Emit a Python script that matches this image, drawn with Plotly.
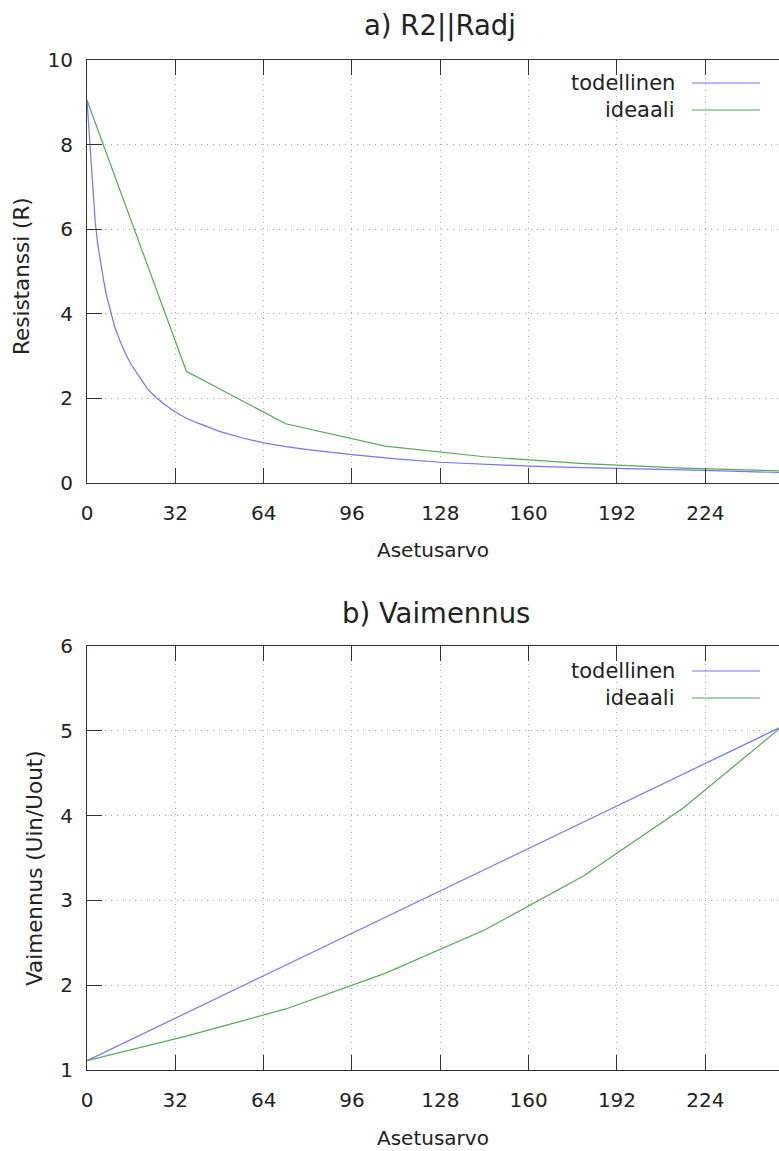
import plotly.graph_objects as go

# ---- data ----
asetus_real_r = [0, 1, 2, 3, 4, 5, 6, 7, 8, 10, 12, 14, 16, 18, 20, 22, 24, 28, 32,
                 36, 40, 48, 56, 64, 72, 80, 96, 112, 128, 144, 160, 176, 192, 208, 224, 240, 255]
r_todellinen = [9.05, 8.1, 7.0, 6.15, 5.6, 5.15, 4.8, 4.45, 4.2, 3.7, 3.35, 3.05, 2.8, 2.6,
                2.4, 2.22, 2.08, 1.86, 1.68, 1.53, 1.42, 1.22, 1.07, 0.95, 0.86, 0.79, 0.67,
                0.57, 0.49, 0.44, 0.40, 0.37, 0.34, 0.32, 0.30, 0.26, 0.24]
asetus_ideal_r = [0, 36, 72, 108, 144, 180, 216, 252, 255]
r_ideaali = [9.05, 2.64, 1.40, 0.87, 0.62, 0.46, 0.35, 0.28, 0.28]

asetus_real_v = [0, 32, 64, 96, 128, 160, 192, 224, 255]
v_todellinen = [1.11, 1.61, 2.11, 2.61, 3.11, 3.61, 4.11, 4.61, 5.10]
asetus_ideal_v = [0, 36, 72, 108, 144, 180, 216, 252, 255]
v_ideaali = [1.11, 1.40, 1.72, 2.14, 2.65, 3.29, 4.09, 5.055, 5.06]

x_ticks = [0, 32, 64, 96, 128, 160, 192, 224]
y_ticks_r = [0, 2, 4, 6, 8, 10]
y_ticks_v = [1, 2, 3, 4, 5, 6]

title_a = "a) R2||Radj"
title_b = "b) Vaimennus"
xlabel = "Asetusarvo"
ylabel_a = "Resistanssi (R)"
ylabel_b = "Vaimennus (Uin/Uout)"
names = ["todellinen", "ideaali"]

# ---- styling ----
W, H = 779, 1151
BLUE = "#7373ff"
GREEN = "#55aa55"
FONT = "DejaVu Sans"
AX = "#333333"
GRID = "#a8a8a8"


def px(x):
    return x / W


def py(y):
    return 1 - y / H


fig = go.Figure()
fig.add_trace(go.Scatter(x=asetus_real_r, y=r_todellinen, mode="lines", name=names[0],
                         line=dict(color=BLUE, width=1.2), xaxis="x", yaxis="y", showlegend=False))
fig.add_trace(go.Scatter(x=asetus_ideal_r, y=r_ideaali, mode="lines", name=names[1],
                         line=dict(color=GREEN, width=1.2), xaxis="x", yaxis="y", showlegend=False))
fig.add_trace(go.Scatter(x=asetus_real_v, y=v_todellinen, mode="lines", name=names[0],
                         line=dict(color=BLUE, width=1.2), xaxis="x2", yaxis="y2", showlegend=False))
fig.add_trace(go.Scatter(x=asetus_ideal_v, y=v_ideaali, mode="lines", name=names[1],
                         line=dict(color=GREEN, width=1.2), xaxis="x2", yaxis="y2", showlegend=False))

xcommon = dict(range=[0, 250.7], tickvals=x_ticks, ticks="inside", ticklen=15, tickwidth=1,
               tickcolor=AX, showline=True, linecolor=AX, linewidth=1, mirror="ticks",
               showgrid=True, gridcolor=GRID, griddash="1px,5px", gridwidth=1,
               zeroline=False, tickfont=dict(family=FONT, size=20, color="#222"),
               ticklabelstandoff=12, automargin=False)
ycommon = dict(ticks="inside", ticklen=15, tickwidth=1, tickcolor=AX, showline=True,
               linecolor=AX, linewidth=1, mirror=False, showgrid=True, gridcolor=GRID,
               griddash="1px,5px", gridwidth=1, zeroline=False,
               tickfont=dict(family=FONT, size=20, color="#222"), ticklabelstandoff=9,
               automargin=False)

fig.update_layout(
    width=W, height=H, margin=dict(l=0, r=0, t=0, b=0, pad=0),
    paper_bgcolor="white", plot_bgcolor="white",
    xaxis=dict(domain=[px(87), 1], anchor="y", **xcommon),
    yaxis=dict(domain=[py(483), py(60)], anchor="x", range=[0, 10], tickvals=y_ticks_r, **ycommon),
    xaxis2=dict(domain=[px(87), 1], anchor="y2", **xcommon),
    yaxis2=dict(domain=[py(1070), py(646)], anchor="x2", range=[1, 6], tickvals=y_ticks_v, **ycommon),
    showlegend=False,
)

ann = []
def txt(text, x, y, size=20, angle=0, xanchor="center"):
    ann.append(dict(text=text, x=px(x), y=py(y), xref="paper", yref="paper", showarrow=False,
                    font=dict(family=FONT, size=size, color="#222"), textangle=angle,
                    xanchor=xanchor, yanchor="middle"))

txt(title_a, 440, 25, size=27.5)
txt(title_b, 436, 613, size=27.5)
txt(xlabel, 433, 550)
txt(xlabel, 433, 1138)
txt(ylabel_a, 21, 276, size=21.5, angle=-90)
txt(ylabel_b, 34, 868, size=21.5, angle=-90)

# legends (gnuplot style: text then sample line)
shapes = []
for y0 in (83, 671):
    for i, (nm, col) in enumerate(zip(names, [BLUE, GREEN])):
        yy = y0 + 27 * i
        txt(nm, 677, yy, size=21, xanchor="right")
        shapes.append(dict(type="line", xref="paper", yref="paper", x0=px(692), x1=px(760),
                           y0=py(yy), y1=py(yy), line=dict(color=col, width=1.2)))

fig.update_layout(annotations=ann, shapes=shapes)
fig.write_html("out.html")
